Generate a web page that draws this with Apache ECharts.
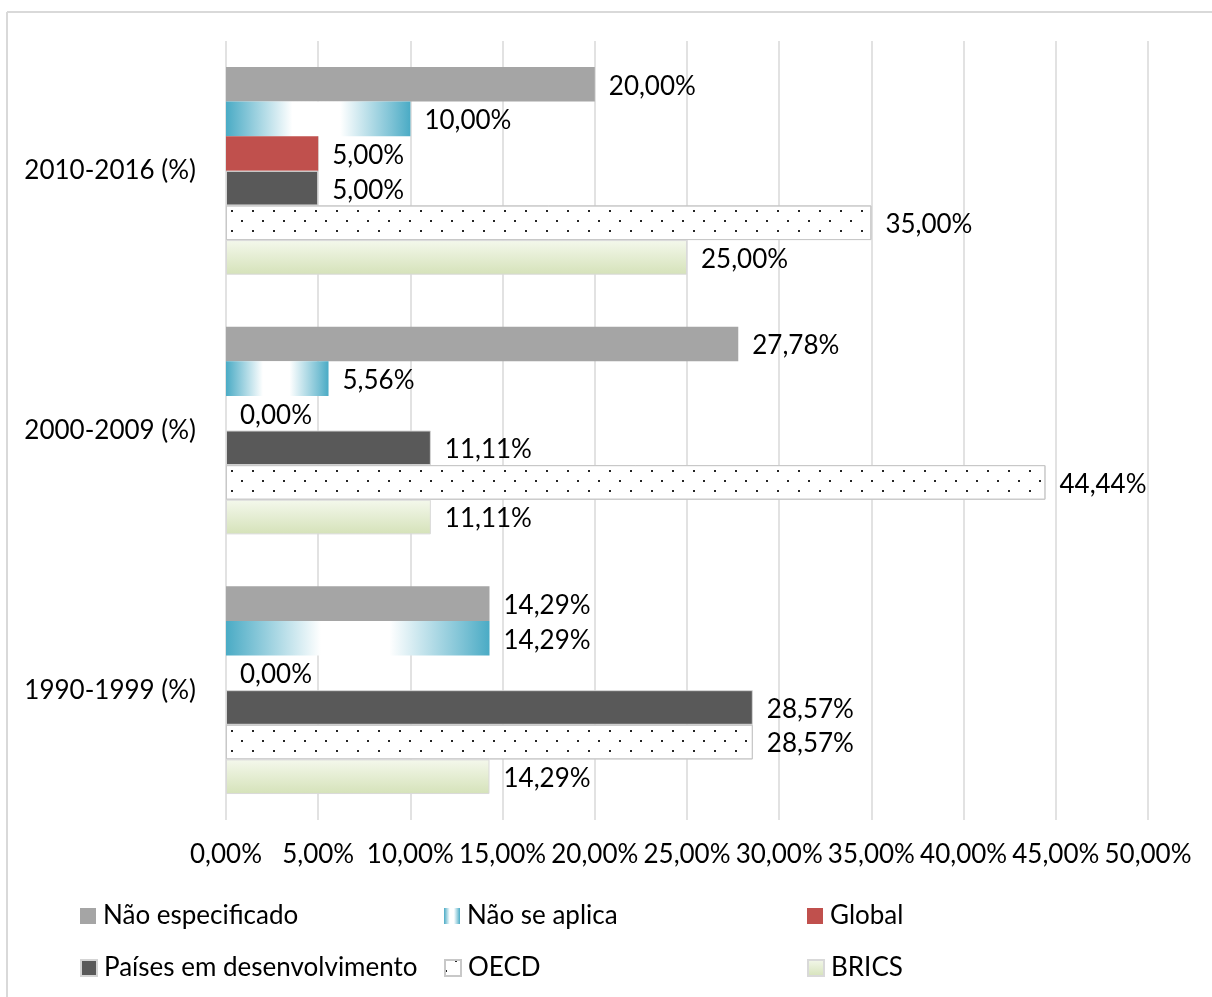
<!DOCTYPE html>
<html>
<head>
<meta charset="utf-8">
<script src="https://cdn.jsdelivr.net/npm/echarts@6/dist/echarts.min.js"></script>
<style>
  html, body { margin: 0; padding: 0; background: #ffffff; }
  #chart { width: 1212px; height: 997px; }
</style>
</head>
<body>
<div id="chart"></div>
<script>
// Periods (bottom to top on the category axis)
const periods = ['1990-1999 (%)', '2000-2009 (%)', '2010-2016 (%)'];

// Share per scope, in percent, one entry per period
const naoEspecificado = [14.29, 27.78, 20.00];
const naoSeAplica     = [14.29, 5.56, 10.00];
const globalScope     = [0.00, 0.00, 5.00];
const paisesEmDesenv  = [28.57, 11.11, 5.00];
const oecd            = [28.57, 44.44, 35.00];
const brics           = [14.29, 11.11, 25.00];

const seriesNames = ['Não especificado', 'Não se aplica', 'Global',
                     'Países em desenvolvimento', 'OECD', 'BRICS'];

// Value axis range / ticks
const axisMin = 0;
const axisMax = 50;
const axisStep = 5;

const FONT = 'Lato, "Open Sans", sans-serif';
const FONT_SIZE = 26;
const fmtPct = v => Number(v).toFixed(2).replace('.', ',') + '%';

const styles = [
  { color: '#a5a5a5' },
  { color: new echarts.graphic.LinearGradient(0, 0, 1, 0, [
      { offset: 0, color: '#4aabc5' },
      { offset: 0.1, color: '#7cc2d5' },
      { offset: 0.36, color: '#ffffff' },
      { offset: 0.62, color: '#ffffff' },
      { offset: 0.9, color: '#7cc2d5' },
      { offset: 1, color: '#4aabc5' }
    ]) },
  { color: '#c0504d' },
  { color: '#595959', borderColor: '#d4d4d4', borderWidth: 1 },
  { color: '#ffffff', borderColor: '#c8c8c8', borderWidth: 1,
    decal: {
      symbol: 'rect',
      symbolSize: 1,
      color: '#262626',
      dashArrayX: [[2, 19], [0, 10, 2, 9]],
      dashArrayY: [2, 8]
    } },
  { color: new echarts.graphic.LinearGradient(0, 0, 0, 1, [
      { offset: 0, color: '#f4f8ec' },
      { offset: 1, color: '#d5e2b9' }
    ]), borderColor: '#d9d9d9', borderWidth: 1 }
];

const values = [naoEspecificado, naoSeAplica, globalScope, paisesEmDesenv, oecd, brics];

const series = seriesNames.map((name, i) => ({
  name: name,
  type: 'bar',
  data: values[i],
  barGap: '0%',
  barCategoryGap: '20%',
  itemStyle: styles[i],
  label: {
    show: true,
    position: 'right',
    distance: 14,
    offset: [0, 2],
    formatter: p => fmtPct(p.value),
    color: '#000000',
    fontFamily: FONT,
    fontSize: FONT_SIZE
  }
}));

// Legend laid out as a 3 x 2 table
const legendCells = [
  { name: 'Não especificado', left: 80, top: 903 },
  { name: 'Não se aplica', left: 444, top: 903 },
  { name: 'Global', left: 807, top: 903 },
  { name: 'Países em desenvolvimento', left: 80, top: 955 },
  { name: 'OECD', left: 444, top: 955 },
  { name: 'BRICS', left: 807, top: 955 }
];

const legends = legendCells.map(c => ({
  data: [{ name: c.name, icon: 'rect' }],
  left: c.left,
  top: c.top,
  padding: 0,
  itemWidth: 16,
  itemHeight: 16,
  itemGap: 0,
  selectedMode: false,
  textStyle: { color: '#000000', fontFamily: FONT, fontSize: FONT_SIZE, padding: [0, 0, 0, 2] }
}));

const chart = echarts.init(document.getElementById('chart'), null, { renderer: 'canvas' });
chart.setOption({
  animation: false,
  backgroundColor: '#ffffff',
  grid: { left: 226, right: 64, top: 41, bottom: 177, containLabel: false },
  xAxis: {
    type: 'value',
    min: axisMin,
    max: axisMax,
    interval: axisStep,
    axisLine: { show: false },
    axisTick: { show: false },
    splitLine: { show: true, lineStyle: { color: '#d9d9d9', width: 1.5 } },
    axisLabel: { formatter: v => fmtPct(v), color: '#000000', fontFamily: FONT, fontSize: FONT_SIZE, margin: 22 }
  },
  yAxis: {
    type: 'category',
    data: periods,
    axisLine: { show: false },
    axisTick: { show: false },
    axisLabel: { color: '#000000', fontFamily: FONT, fontSize: FONT_SIZE, margin: 30 }
  },
  legend: legends,
  graphic: [
    { type: 'line', shape: { x1: 7, y1: 12, x2: 1212, y2: 12 }, style: { stroke: '#d9d9d9', lineWidth: 2 } },
    { type: 'line', shape: { x1: 7, y1: 12, x2: 7, y2: 997 }, style: { stroke: '#d9d9d9', lineWidth: 2 } }
  ],
  series: series
});
</script>
</body>
</html>
